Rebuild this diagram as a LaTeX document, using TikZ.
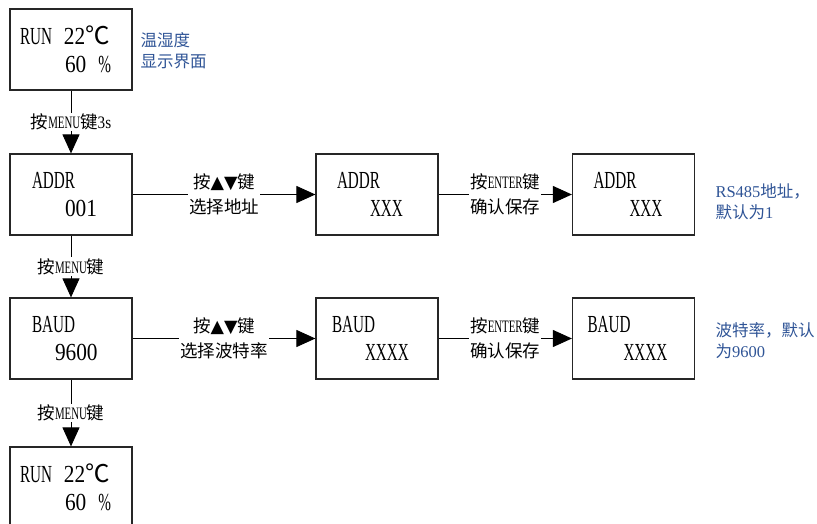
\documentclass[tikz,border=0pt]{standalone}
\usepackage{fontspec}
\setmainfont{Liberation Serif}
\newfontfamily\cjk{Noto Sans CJK SC}
\newfontfamily\lcd[FakeStretch=0.62]{Liberation Serif}
\newfontfamily\lcdnum[FakeStretch=0.87]{Liberation Serif}
\newfontfamily\sym{DejaVu Sans}
\usetikzlibrary{arrows.meta}
\definecolor{noteblue}{RGB}{47,84,150}

\begin{document}
\begin{tikzpicture}[x=1pt,y=-1pt,
    screen/.style={draw=black!85, line width=1.2pt, minimum width=122pt, minimum height=81pt,
        text width=122pt, align=left, inner sep=0pt, font=\lcd\fontsize{24.5}{27.5}\selectfont},
    tag/.style={fill=white, inner sep=1pt, align=center, font=\lcd\fontsize{17.5}{25}\selectfont},
    note/.style={anchor=west, align=left, text=noteblue, font=\fontsize{16.5}{21}\selectfont},
    flow/.style={draw=black, line width=0.9pt, -{Triangle[length=19pt,width=17pt]}}]
            \clip (0,0) rectangle (817,524);  % picture frame

            % Screens on the left column
            \node[screen] (run) at (71,49.5) {\hspace*{10pt}\makebox[44pt][l]{RUN}{\lcdnum 22}{\cjk ℃}\\\hspace*{55pt}{\lcdnum 60}\hspace{12pt}\%};
            \node[screen] (addr) at (71,194.5) {\hspace*{22pt}ADDR\\\hspace*{55pt}{\lcdnum 001}};
            \node[screen] (baud) at (71,338.5) {\hspace*{22pt}BAUD\\\hspace*{45pt}{\lcdnum 9600}};
            \node[screen] (runback) at (71,487.5) {\hspace*{10pt}\makebox[44pt][l]{RUN}{\lcdnum 22}{\cjk ℃}\\\hspace*{55pt}{\lcdnum 60}\hspace{12pt}\%};

            % Setting screens
            \node[screen] (addrset) at (377,194.5) {\hspace*{21pt}ADDR\\\hspace*{54pt}XXX};
            \node[screen] (addrok) at (633.5,194.5) {\hspace*{21pt}ADDR\\\hspace*{57pt}XXX};
            \node[screen] (baudset) at (377,338.5) {\hspace*{16pt}BAUD\\\hspace*{49pt}XXXX};
            \node[screen] (baudok) at (633.5,338.5) {\hspace*{15pt}BAUD\\\hspace*{51pt}XXXX};

            % Notes
            \node[note] (runnote) at (137,51) {{\cjk 温湿度}\\{\cjk 显示界面}};
            \node[note] (addrnote) at (712,202) {RS485{\cjk 地址，}\\{\cjk 默认为}1};
            \node[note] (baudnote) at (712,340.5) {{\cjk 波特率，默认}\\{\cjk 为}9600};

            % Key presses
            \draw[flow] (run) -- node[tag] {{\cjk 按}MENU{\cjk 键}{\lcdnum 3s}} (addr);
            \draw[flow] (addr) -- node[tag] {{\cjk 按}MENU{\cjk 键}} (baud);
            \draw[flow] (baud) -- node[tag] {{\cjk 按}MENU{\cjk 键}} (runback);
            \draw[flow] (addr) -- node[tag] {{\cjk 按}{\sym ▲▼}{\cjk 键}\\{\cjk 选择地址}} (addrset);
            \draw[flow] (addrset) -- node[tag] {{\cjk 按}ENTER{\cjk 键}\\{\cjk 确认保存}} (addrok);
            \draw[flow] (baud) -- node[tag] {{\cjk 按}{\sym ▲▼}{\cjk 键}\\{\cjk 选择波特率}} (baudset);
            \draw[flow] (baudset) -- node[tag] {{\cjk 按}ENTER{\cjk 键}\\{\cjk 确认保存}} (baudok);
\end{tikzpicture}
\end{document}
